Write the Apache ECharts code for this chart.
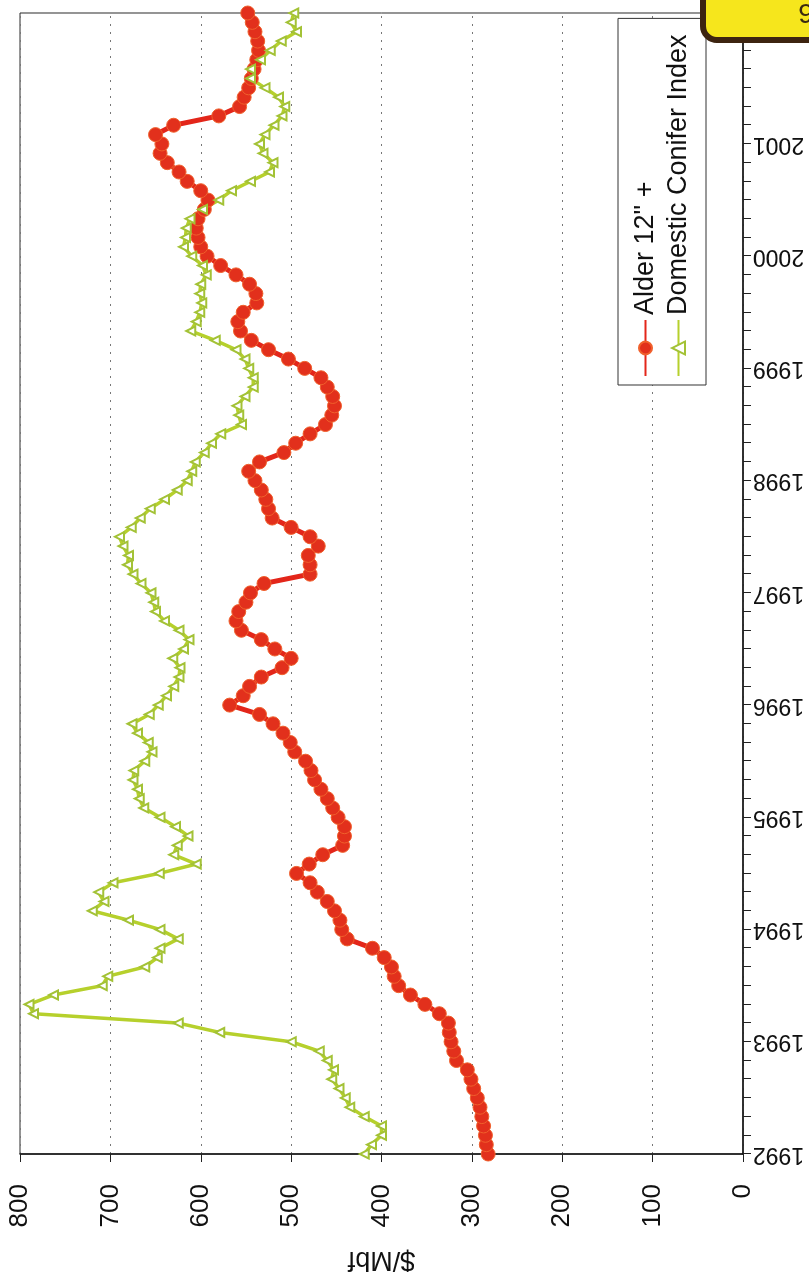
<!DOCTYPE html>
<html>
<head>
<meta charset="utf-8">
<title>Alder 12" vs Domestic Conifer Index</title>
<script src="https://cdn.jsdelivr.net/npm/echarts@6/dist/echarts.min.js"></script>
<style>
  html, body { margin: 0; padding: 0; background: #ffffff; overflow: hidden; }
  body { width: 809px; height: 1281px; position: relative; }
  /* The slide is laid out landscape and turned a quarter turn counter-clockwise onto the portrait page. */
  #chart {
    position: absolute; left: 0; top: 0;
    width: 1281px; height: 809px;
    transform-origin: 0 0;
    transform: translate(0, 1281px) rotate(-90deg);
  }
</style>
</head>
<body>
<div id="chart"></div>
<script>
// Monthly observations, January 1992 through March 2002 ($/Mbf)
const startYear = 1992;
const monthCount = 123;
const months = [];
for (let i = 0; i < monthCount; i++) {
  const y = startYear + Math.floor(i / 12);
  const m = (i % 12) + 1;
  months.push(y + '-' + (m < 10 ? '0' + m : m));
}

const alder = [
  282, 284, 285, 287, 289, 291, 294, 298, 301, 305,
  317, 320, 323, 325, 326, 336, 352, 368, 381, 386,
  389, 397, 410, 438, 444, 446, 452, 460, 471, 479,
  494, 480, 465, 443, 441, 441, 448, 454, 460, 467,
  474, 478, 484, 496, 501, 509, 520, 535, 568, 553,
  546, 533, 510, 500, 518, 533, 555, 561, 558, 550,
  545, 530, 479, 479, 481, 470, 479, 500, 521, 525,
  528, 533, 540, 547, 535, 508, 495, 479, 462, 455,
  452, 454, 460, 467, 485, 503, 525, 544, 556, 559,
  553, 538, 539, 546, 561, 578, 593, 600, 603, 605,
  603, 596, 592, 600, 615, 624, 637, 645, 643, 650,
  630, 580, 557, 552, 547, 544, 541, 538, 536, 537,
  540, 543, 548
];

const conifer = [
  419, 411, 400, 400, 419, 435, 440, 447, 455, 453,
  460, 469, 500, 579, 625, 785, 790, 763, 709, 703,
  662, 648, 645, 625, 645, 680, 720, 707, 713, 697,
  646, 605, 630, 626, 614, 628, 645, 663, 668, 670,
  675, 674, 662, 654, 658, 670, 676, 657, 647, 638,
  630, 624, 623, 631, 619, 613, 624, 640, 650, 652,
  655, 666, 675, 681, 680, 686, 690, 677, 667, 656,
  640, 626, 615, 610, 606, 596, 588, 578, 555, 558,
  560, 551, 542, 542, 547, 551, 561, 584, 611, 605,
  601, 599, 601, 600, 594, 598, 610, 619, 617, 616,
  612, 598, 580, 566, 545, 524, 520, 531, 535, 529,
  519, 510, 507, 514, 529, 545, 545, 534, 523, 511,
  494, 500, 497
];

const seriesNames = ['Alder 12" +', 'Domestic Conifer Index'];
const lastLabelledYear = 2001;

const FONT = "'Liberation Sans', Arial, Helvetica, sans-serif";
const chart = echarts.init(document.getElementById('chart'), null, { renderer: 'canvas' });

chart.setOption({
  backgroundColor: '#ffffff',
  animation: false,
  textStyle: { fontFamily: FONT, color: '#111' },
  grid: {
    left: 108, right: 13, top: 20, bottom: 66,
    show: true, borderColor: '#2a2a2a', borderWidth: 1, backgroundColor: 'transparent'
  },
  legend: {
    data: seriesNames,
    orient: 'vertical',
    left: 896, top: 618,
    padding: [14, 16, 14, 8],
    itemGap: 6,
    itemWidth: 56, itemHeight: 16,
    borderColor: '#333', borderWidth: 1,
    backgroundColor: '#ffffff',
    textStyle: { fontSize: 27, fontFamily: FONT, color: '#111' }
  },
  xAxis: {
    type: 'category',
    data: months,
    boundaryGap: false,
    axisLine: { lineStyle: { color: '#111', width: 1.5 } },
    axisTick: {
      interval: (i) => i % 2 === 0,
      length: 8,
      lineStyle: { color: '#222' }
    },
    axisLabel: {
      interval: (i, v) => i % 12 === 0 && +v.slice(0, 4) <= lastLabelledYear,
      formatter: (v) => v.slice(0, 4),
      rotate: 90,
      margin: 10,
      fontSize: 23,
      color: '#111'
    },
    splitLine: { show: false }
  },
  yAxis: {
    type: 'value',
    min: 0, max: 800, interval: 100,
    name: '$/Mbf',
    nameLocation: 'middle',
    nameGap: 92,
    nameTextStyle: { fontSize: 27, color: '#111' },
    axisLine: { show: true, lineStyle: { color: '#111', width: 1.5 } },
    axisTick: { show: true, length: 8, lineStyle: { color: '#222' } },
    axisLabel: { fontSize: 26, margin: 30, color: '#111' },
    splitLine: { lineStyle: { color: '#777', type: [2, 6], width: 1 } }
  },
  series: [
    {
      name: seriesNames[0],
      type: 'line',
      data: alder,
      symbol: 'circle',
      symbolSize: 14,
      showAllSymbol: true,
      lineStyle: { color: '#e3261a', width: 5 },
      itemStyle: { color: '#e2301c', borderColor: '#f0602c', borderWidth: 1 }
    },
    {
      name: seriesNames[1],
      type: 'line',
      data: conifer,
      symbol: 'emptyTriangle',
      symbolSize: 9,
      showAllSymbol: true,
      lineStyle: { color: '#b6d02c', width: 3.5 },
      itemStyle: { color: '#a3c236', borderWidth: 1.5 }
    }
  ],
  graphic: [
    {
      type: 'rect',
      shape: { x: 1241, y: 703, width: 60, height: 130, r: [14, 0, 0, 0] },
      style: { fill: '#f6e61c', stroke: '#3d2410', lineWidth: 6 },
      z: 100
    },
    {
      type: 'text',
      x: 1266, y: 806,
      rotation: -Math.PI / 2,
      style: { text: '9', font: '28px ' + FONT, fill: '#3a2a10', align: 'center', verticalAlign: 'middle' },
      z: 101
    }
  ]
});
</script>
</body>
</html>
